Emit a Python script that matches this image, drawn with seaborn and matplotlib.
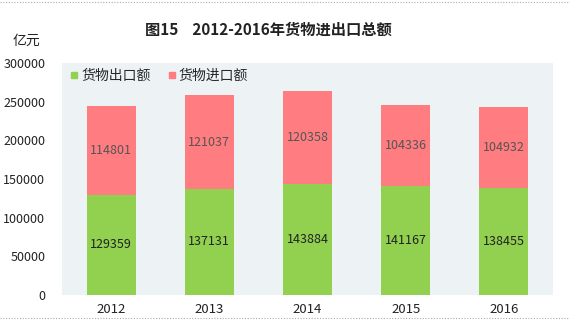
import matplotlib
matplotlib.use("Agg")
import matplotlib.pyplot as plt
import seaborn as sns
import pandas as pd
from matplotlib.lines import Line2D

years = ["2012", "2013", "2014", "2015", "2016"]
exports = [129359, 137131, 143884, 141167, 138455]
imports = [114801, 121037, 120358, 104336, 104932]
yticks = [0, 50000, 100000, 150000, 200000, 250000, 300000]

sns.set_theme(style="white")
plt.rcParams['font.family'] = ['Noto Sans CJK SC', 'DejaVu Sans']

green = "#92d050"
pink = "#ff7c80"

df = pd.DataFrame({"year": years, "exports": exports, "imports": imports})
df["total"] = df["exports"] + df["imports"]

fig = plt.figure(figsize=(5.7, 3.24), dpi=100)
ax = fig.add_axes([62/570, 1 - 295/324, 491/570, 232/324])
ax.set_facecolor("#edf2f4")

sns.barplot(data=df, x="year", y="total", color=pink, width=0.5, ax=ax,
            saturation=1, linewidth=0)
sns.barplot(data=df, x="year", y="exports", color=green, width=0.5, ax=ax,
            saturation=1, linewidth=0)

ax.set_xlim(-0.5, 4.5)
ax.set_ylim(0, 300000)
ax.set_yticks(yticks)
ax.set_yticklabels([str(v) for v in yticks], fontsize=9, color="#222222")
ax.tick_params(axis="x", labelsize=9.5, colors="#222222", length=0, pad=6)
ax.tick_params(axis="y", length=0, pad=12)
ax.set_xlabel("")
ax.set_ylabel("")
for s in ax.spines.values():
    s.set_visible(False)

for i, (e, im) in enumerate(zip(exports, imports)):
    ax.text(i, e / 2, str(e), ha="center", va="center", fontsize=9, color="#222222")
    ax.text(i, e + im / 2, str(im), ha="center", va="center", fontsize=9, color="#555555")

handles = [Line2D([], [], marker="s", linestyle="", color=green, markersize=4),
           Line2D([], [], marker="s", linestyle="", color=pink, markersize=4)]
ax.legend(handles, ["货物出口额", "货物进口额"], loc="upper left", ncol=2,
          frameon=False, fontsize=10, handletextpad=0.0, columnspacing=1.0,
          handlelength=1.0, bbox_to_anchor=(0.0, 1.0), borderaxespad=0.2, borderpad=0.2)

fig.text(268/570, 1 - 30/324, "图15    2012-2016年货物进出口总额", ha="center", va="center",
         fontsize=11, fontweight="bold", color="#222222")
fig.text(26/570, 1 - 41/324, "亿元", ha="center", va="center", fontsize=10, color="#222222")

for yy in [2, 318]:
    fig.add_artist(Line2D([0, 1], [1 - yy/324] * 2, transform=fig.transFigure,
                          color="#aaaaaa", linestyle=(0, (1, 1.5)), linewidth=0.8))

fig.savefig("out.png", dpi=100)
